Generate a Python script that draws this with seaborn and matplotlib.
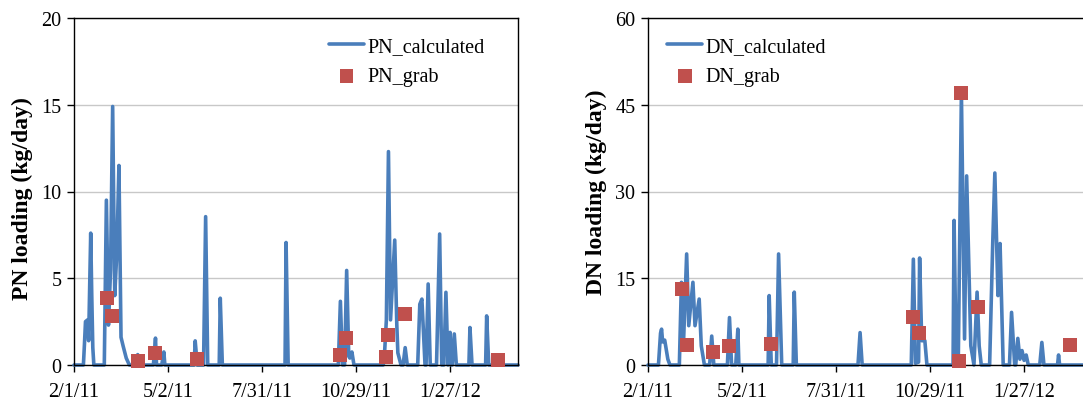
import numpy as np
import pandas as pd
import matplotlib
matplotlib.use("Agg")
import matplotlib.pyplot as plt
import seaborn as sns

# ---------------- data (days after 2/1/2011) ----------------
START = "2011-02-01"
END = "2012-04-01"

pn_calc_days = [0, 9, 10, 11, 13, 14, 16, 17, 18, 19,
                29, 31, 33, 35, 37, 39, 41, 43, 45, 47, 50, 53,
                58, 61, 63, 76, 78, 79, 84, 86, 87, 115, 116, 118,
                124, 126, 128, 139, 140, 142, 202, 203, 205,
                253, 255, 257, 259, 261, 263, 264, 266, 268,
                296, 297, 299, 301, 303, 307, 309, 310, 313, 315, 317, 319,
                329, 331, 333, 336, 337, 339, 341,
                347, 350, 352, 354, 356, 358, 360, 361, 362, 364, 366,
                378, 379, 381, 394, 395, 397, 425]
pn_calc_vals = [0, 0, 1.2, 2.5, 2.6, 1.4, 7.6, 4.0, 1.0, 0,
                0, 9.5, 2.3, 5.5, 14.9, 4.0, 6.5, 11.5, 1.6, 1.1, 0.4, 0,
                0, 0.6, 0, 0, 1.55, 0, 0, 0.75, 0, 0, 1.39, 0,
                0, 8.55, 0, 0, 3.85, 0, 0, 7.06, 0,
                0, 3.67, 0, 0, 5.45, 0.5, 0.4, 0.75, 0,
                0, 0.4, 2.6, 12.3, 2.6, 7.2, 2.3, 0.7, 0, 0, 1.0, 0,
                0, 3.5, 3.8, 0, 0, 4.67, 0,
                0, 7.55, 0, 0, 4.19, 0, 1.88, 0, 0, 1.79, 0,
                0, 2.16, 0, 0, 2.83, 0, 0]

pn_grab_days = [31.5, 36.5, 61.4, 77.7, 117.5, 254.7, 260.4, 298.6, 300.9, 316.5, 405.6]
pn_grab_vals = [3.87, 2.82, 0.23, 0.71, 0.33, 0.58, 1.58, 0.48, 1.71, 2.93, 0.29]

dn_calc_days = [0, 10, 12, 13, 14, 16, 19, 21,
                30, 32, 34, 37, 39, 43, 45, 49, 51, 54,
                59, 61, 63, 76, 78, 80, 84, 86, 87,
                115, 116, 118, 123, 125, 128, 139, 140, 142,
                201, 203, 205,
                252, 254, 256, 259, 260, 262, 265, 267,
                292, 293, 295, 296, 297, 300, 303, 305, 309, 312, 315, 317, 319,
                327, 330, 332, 335, 337, 340,
                346, 348, 351, 352, 354, 356, 358, 360, 362, 364,
                375, 377, 379, 392, 393, 394, 425]
dn_calc_vals = [0, 0, 5.5, 6.2, 4.0, 4.3, 1.0, 0,
                0, 14.3, 3.9, 19.2, 6.8, 14.3, 6.8, 11.4, 3.3, 0,
                0, 5.0, 0, 0, 8.2, 0, 0, 6.2, 0,
                0, 12.0, 0, 0, 19.2, 0, 0, 12.6, 0,
                0, 5.6, 0,
                0, 18.3, 0.3, 0.5, 18.5, 4.2, 4.2, 0,
                0, 25.0, 0, 0, 0.7, 47.0, 4.5, 32.7, 3.3, 0, 12.6, 3.3, 0,
                0, 21.2, 33.2, 12.0, 21.0, 0,
                0, 9.1, 0, 0, 4.6, 1.0, 2.5, 0.8, 1.73, 0,
                0, 3.9, 0, 0, 1.73, 0, 0]

dn_grab_days = [32.2, 37.0, 61.8, 77.7, 117.5, 253.4, 259.5, 297.3, 299.6, 315.5, 403.7]
dn_grab_vals = [13.1, 3.46, 2.19, 3.34, 3.63, 8.24, 5.5, 0.75, 47.0, 10.1, 3.52]

x_tick_labels = ["2/1/11", "5/2/11", "7/31/11", "10/29/11", "1/27/12"]
pn_yticks = [0, 5, 10, 15, 20]
dn_yticks = [0, 15, 30, 45, 60]

# ---------------- style ----------------
BLUE = "#4A7EBB"
RED = "#C0504D"
sns.set_style("white")
plt.rcParams["font.family"] = ["Liberation Serif", "DejaVu Serif"]
for k in ["text.color", "axes.labelcolor", "xtick.color", "ytick.color"]:
    plt.rcParams[k] = "black"
FS = 14.5


def to_df(days, vals):
    d = pd.Timestamp(START) + pd.to_timedelta(np.asarray(days, float), unit="D")
    return pd.DataFrame({"date": d, "value": vals})


fig = plt.figure(figsize=(10.83, 4.02), dpi=100)
W, H = 1083.0, 402.0
ax_top, ax_bot = 19.0, 366.0
ax_w = 444.0
axL = fig.add_axes([74 / W, (H - ax_bot) / H, ax_w / W, (ax_bot - ax_top) / H])
axR = fig.add_axes([648 / W, (H - ax_bot) / H, ax_w / W, (ax_bot - ax_top) / H])

tick_dates = pd.to_datetime(x_tick_labels, format="%m/%d/%y")

panels = [
    (axL, pn_calc_days, pn_calc_vals, pn_grab_days, pn_grab_vals, pn_yticks,
     "PN", "PN loading (kg/day)", (0.574, 0.945), 0.483),
    (axR, dn_calc_days, dn_calc_vals, dn_grab_days, dn_grab_vals, dn_yticks,
     "DN", "DN loading (kg/day)", (0.043, 0.945), 0.5),
]

for ax, cd, cv, gd, gv, yt, nm, ylab, legpos, ly in panels:
    calc = to_df(cd, cv)
    grab = to_df(gd, gv)
    sns.lineplot(data=calc, x="date", y="value", ax=ax, color=BLUE, lw=2.6,
                 sort=False, estimator=None, label=f"{nm}_calculated",
                 clip_on=False, zorder=2)
    sns.scatterplot(data=grab, x="date", y="value", ax=ax, color=RED,
                    marker="s", s=100, edgecolor="none", linewidth=0,
                    label=f"{nm}_grab", zorder=3, clip_on=False)
    ax.set_xlim(pd.Timestamp(START), pd.Timestamp(END))
    ax.set_ylim(yt[0], yt[-1])
    ax.set_yticks(yt)
    ax.set_yticklabels([str(v) for v in yt], fontsize=FS)
    ax.set_xticks(tick_dates)
    ax.set_xticklabels(x_tick_labels, fontsize=FS)
    ax.set_xlabel("")
    ax.set_ylabel(ylab, fontsize=17, fontweight="bold", va="center")
    ax.yaxis.set_label_coords(-0.117, ly)
    ax.yaxis.grid(True, color="#C8C8C8", lw=1.0)
    ax.xaxis.grid(False)
    ax.set_axisbelow(True)
    for s in ax.spines.values():
        s.set_visible(True)
        s.set_color("black")
        s.set_linewidth(1.0)
    ax.tick_params(axis="y", direction="out", length=5, width=1, color="black",
                   labelcolor="black", pad=4, left=True)
    ax.tick_params(axis="x", direction="out", length=5, width=1, color="black",
                   labelcolor="black", pad=7, bottom=True)
    ax.legend(loc="upper left", bbox_to_anchor=legpos, frameon=False,
              fontsize=FS, handlelength=1.75, handletextpad=0.15,
              labelspacing=0.55, borderaxespad=0, borderpad=0)

fig.savefig("out.png", dpi=100)
